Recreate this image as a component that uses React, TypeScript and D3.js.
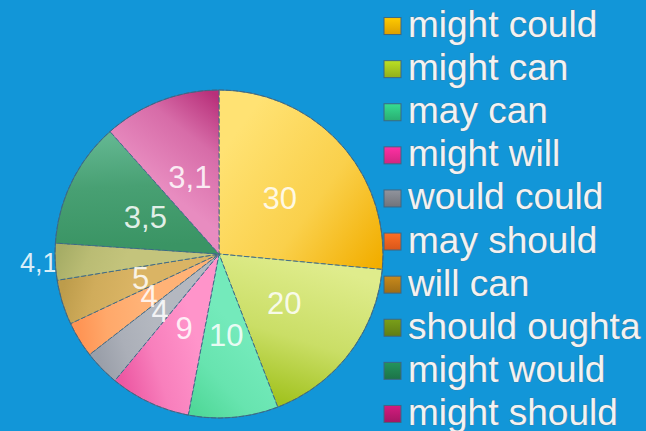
import * as d3 from 'd3'
import { useEffect, useRef } from 'react'

const WIDTH = 646
const HEIGHT = 431

const categories = ['might could', 'might can', 'may can', 'might will', 'would could', 'may should', 'will can', 'should oughta', 'might would', 'might should']
const values = [30, 20, 10, 9, 4, 4, 5, 4.1, 14, 13.1]
const labels = ['30', '20', '10', '9', '4', '4', '5', '4,1', '3,5', '3,1']
const outside = [false, false, false, false, false, false, false, true, false, false]

const sliceLight = ['#ffe273', '#dfec8c', '#74eabb', '#ff94ca', '#b4b8c0', '#ffb276', '#dab464', '#c4c47c', '#3a9464', '#e88cc0']
const sliceDark = ['#f2ae00', '#a2c320', '#50d898', '#ec58a2', '#9a9fa9', '#ff9454', '#bd9c4b', '#a6ad66', '#62b690', '#b8307a']
const legendColors = ['#f5b000', '#a2c21e', '#2fc07e', '#e82a8e', '#7e8088', '#f0601e', '#ae7818', '#6a8a16', '#1f8050', '#b8186e']

export default function App() {
  const ref = useRef<SVGSVGElement>(null)

  useEffect(() => {
    const svg = d3.select(ref.current)
    svg.selectAll('*').remove()

    const cx = 219
    const cy = 254
    const R = 164

    const defs = svg.append('defs')

    svg.append('rect').attr('width', WIDTH).attr('height', HEIGHT).attr('fill', '#1296d8')

    const pie = d3.pie<number>().sort(null).value((d) => d).startAngle(0).endAngle(2 * Math.PI)
    const arcs = pie(values)
    const arc = d3.arc<d3.PieArcDatum<number>>().innerRadius(0).outerRadius(R)

    const pt = (a: number, r: number) => [cx + r * Math.sin(a), cy - r * Math.cos(a)]

    arcs.forEach((d, i) => {
      const [x1, y1] = pt(d.startAngle, R * 0.6)
      const [x2, y2] = pt(d.endAngle, R * 0.95)
      const g = defs.append('linearGradient')
        .attr('id', `slice-${i}`)
        .attr('gradientUnits', 'userSpaceOnUse')
        .attr('x1', x1).attr('y1', y1).attr('x2', x2).attr('y2', y2)
      g.append('stop').attr('offset', '0%').attr('stop-color', sliceLight[i])
      g.append('stop').attr('offset', '55%').attr('stop-color', d3.interpolateRgb(sliceLight[i], sliceDark[i])(0.35))
      g.append('stop').attr('offset', '100%').attr('stop-color', sliceDark[i])

      const lg = defs.append('linearGradient')
        .attr('id', `legend-${i}`)
        .attr('x1', 0).attr('y1', 0).attr('x2', 0).attr('y2', 1)
      lg.append('stop').attr('offset', '0%').attr('stop-color', d3.color(legendColors[i])!.brighter(0.4).formatHex())
      lg.append('stop').attr('offset', '100%').attr('stop-color', d3.color(legendColors[i])!.darker(0.3).formatHex())
    })

    const labelStyle = (t: any) => t
      .attr('text-anchor', 'middle')
      .attr('dominant-baseline', 'central')
      .style('font-family', '"Liberation Sans", Arial, sans-serif')
      .style('font-size', '31px')
      .attr('fill', '#ffffff')
      .attr('fill-opacity', 0.85)

    // outside labels sit under the pie
    svg.append('g')
      .selectAll('text')
      .data(arcs.filter((d, i) => outside[i]))
      .enter()
      .append('text')
      .call(labelStyle)
      .attr('x', (d) => pt((d.startAngle + d.endAngle) / 2, R * 1.1)[0])
      .attr('y', (d) => pt((d.startAngle + d.endAngle) / 2, R * 1.1)[1])
      .style('font-size', '27px')
      .text((d) => labels[d.index])

    svg.append('g')
      .attr('transform', `translate(${cx},${cy})`)
      .selectAll('path')
      .data(arcs)
      .enter()
      .append('path')
      .attr('d', arc)
      .attr('fill', (d, i) => `url(#slice-${i})`)
      .attr('stroke', '#3d6784')
      .attr('stroke-width', 0.9)
      .attr('stroke-dasharray', '5,2')

    // gradients are in page coordinates, so shift the slices' paint back
    svg.selectAll('linearGradient[id^="slice-"]').attr('gradientTransform', `translate(${-cx},${-cy})`)

    svg.append('circle')
      .attr('cx', cx).attr('cy', cy).attr('r', R)
      .attr('fill', 'none')
      .attr('stroke', '#3d6784')
      .attr('stroke-width', 0.8)

    svg.append('g')
      .selectAll('text')
      .data(arcs.filter((d, i) => !outside[i]))
      .enter()
      .append('text')
      .call(labelStyle)
      .attr('x', (d) => pt((d.startAngle + d.endAngle) / 2, R * 0.5)[0])
      .attr('y', (d) => pt((d.startAngle + d.endAngle) / 2, R * 0.5)[1])
      .text((d) => labels[d.index])

    // legend
    const y = d3.scaleBand().domain(categories).range([4.5, 435.5])
    const legend = svg.append('g')
      .selectAll('g')
      .data(categories)
      .enter()
      .append('g')
      .attr('transform', (d) => `translate(384,${y(d)! + y.bandwidth() / 2})`)

    legend.append('rect')
      .attr('x', 0).attr('y', -8.5)
      .attr('width', 17).attr('height', 17)
      .attr('fill', (d, i) => `url(#legend-${i})`)
      .attr('stroke', '#3d6784')
      .attr('stroke-width', 1)

    legend.append('text')
      .attr('x', 24)
      .attr('y', 11)
      .style('font-family', '"Liberation Sans", Arial, sans-serif')
      .style('font-size', '37px')
      .attr('fill', '#f2f2f2')
      .attr('stroke', '#5a7080')
      .attr('stroke-width', 0.6)
      .attr('paint-order', 'stroke')
      .text((d) => d)
  }, [])

  return <svg ref={ref} width={WIDTH} height={HEIGHT} style={{ position: 'absolute', left: 0, top: 0 }} />
}
